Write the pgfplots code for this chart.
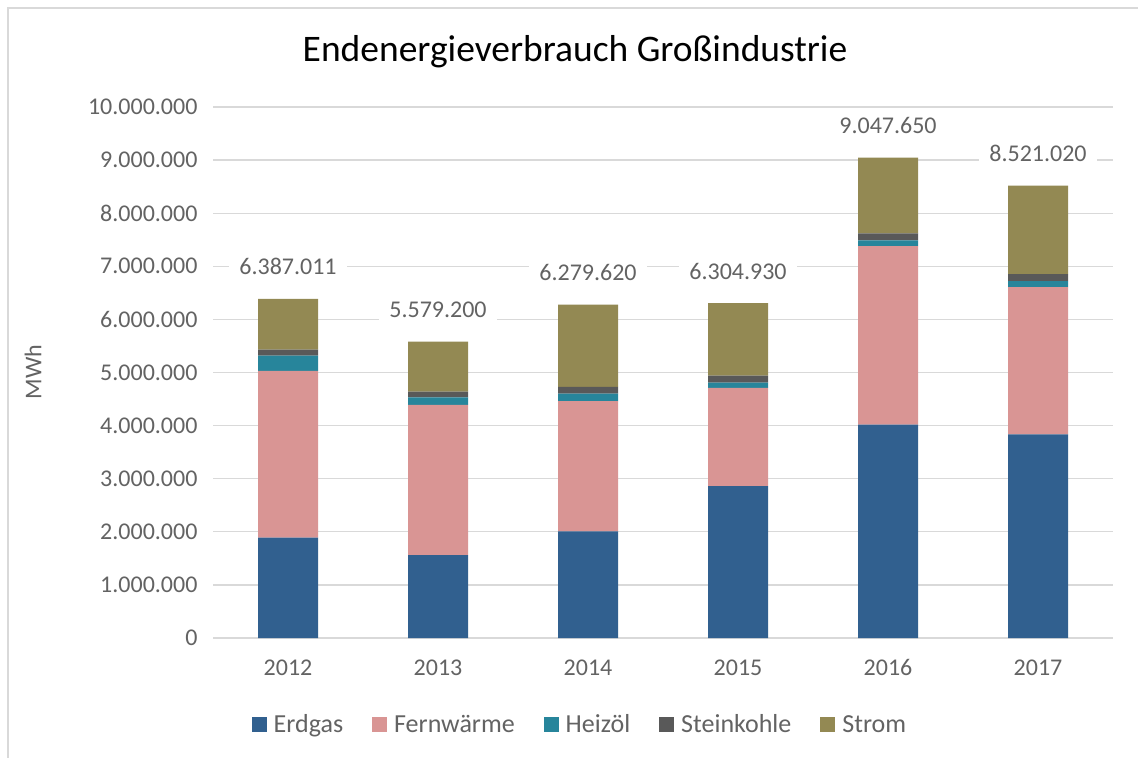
\documentclass[border=0pt]{standalone}
\usepackage{pgfplots}
\pgfplotsset{compat=1.18}
\usepackage{fontspec}
\setmainfont{Carlito}
\definecolor{erdgas}{HTML}{31608F}
\definecolor{fern}{HTML}{D99594}
\definecolor{heiz}{HTML}{27859B}
\definecolor{stein}{HTML}{595959}
\definecolor{strom}{HTML}{938953}
\definecolor{gridgray}{HTML}{D9D9D9}
\definecolor{txt}{HTML}{636363}
\begin{document}
\begin{tikzpicture}
\useasboundingbox (0,0) rectangle (1138bp,758bp);
\fill[white] (0,0) rectangle (1138bp,758bp);
\draw[gridgray, line width=1.2bp] (8bp,0) -- (8bp,750bp) -- (1138bp,750bp);
\begin{axis}[
  at={(213bp,120bp)}, anchor=south west,
  scale only axis, width=900bp, height=531bp,
  ybar stacked, bar width=0.4,
  xmin=-0.5, xmax=5.5, ymin=0, ymax=10000000,
  xtick=data, xticklabels={2012,2013,2014,2015,2016,2017},
  ytick={0,1000000,...,10000000},
  scaled y ticks=false,
  /pgf/number format/.cd, fixed, precision=0, 1000 sep={.}, assume math mode=true,
  /pgfplots/.cd,
  ymajorgrids=true, xmajorgrids=false,
  grid style={draw=gridgray, line width=1.3bp},
  axis line style={draw=none}, major tick length=0,
  tick label style={font=\fontsize{24bp}{28bp}\selectfont, text=txt},
  yticklabel style={xshift=-12bp},
  xticklabel style={yshift=-18bp},
  legend columns=5,
  legend style={at={(0.4066,-0.163)}, anchor=center, draw=none, fill=none,
    font=\fontsize{26bp}{30bp}\selectfont, text=txt, nodes={inner sep=0pt},
    /tikz/every odd column/.append style={column sep=7bp},
    /tikz/every even column/.append style={column sep=29bp}},
  legend image code/.code={\fill[#1] (0bp,-7.5bp) rectangle (15bp,7.5bp);},
]
\addplot[fill=erdgas, draw=none] coordinates {(0,1890000) (1,1563000) (2,2010000) (3,2860000) (4,4020000) (5,3836000)};
\addplot[fill=fern, draw=none] coordinates {(0,3140000) (1,2827000) (2,2450000) (3,1850000) (4,3360000) (5,2771000)};
\addplot[fill=heiz, draw=none] coordinates {(0,290000) (1,140000) (2,140000) (3,100000) (4,110000) (5,113000)};
\addplot[fill=stein, draw=none] coordinates {(0,110000) (1,110000) (2,130000) (3,130000) (4,130000) (5,132000)};
\addplot[fill=strom, draw=none] coordinates {(0,957011) (1,939200) (2,1549620) (3,1364930) (4,1427650) (5,1669020)};
\legend{Erdgas,Fernwärme,Heizöl,Steinkohle,Strom}
\end{axis}
\begin{axis}[
  at={(213bp,120bp)}, anchor=south west,
  scale only axis, width=900bp, height=531bp,
  xmin=-0.5, xmax=5.5, ymin=0, ymax=10000000,
  hide axis, clip=false,
]
\addplot[draw=none, mark=none,
  point meta=explicit symbolic,
  nodes near coords,
  every node near coord/.style={anchor=center, yshift=32bp, fill=white, inner xsep=10bp, inner ysep=5bp,
    font=\fontsize{24bp}{28bp}\selectfont, text=txt}]
  coordinates {(0,6387011) [6.387.011] (1,5579200) [5.579.200] (2,6279620) [6.279.620] (3,6304930) [6.304.930] (4,9047650) [9.047.650] (5,8521020) [8.521.020]};
\end{axis}
\node[font=\fontsize{37.5bp}{43bp}\selectfont, text=black] at (575bp,706bp) {Endenergieverbrauch Großindustrie};
\node[font=\fontsize{24bp}{28bp}\selectfont, text=txt, rotate=90] at (33bp,386bp) {MWh};
\end{tikzpicture}
\end{document}
